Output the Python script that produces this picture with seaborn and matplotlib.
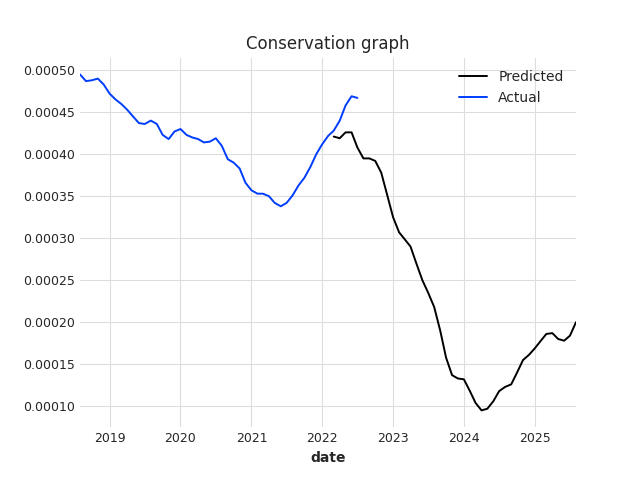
import matplotlib
matplotlib.use("Agg")
import matplotlib.pyplot as plt
import pandas as pd
import seaborn as sns

actual_start = "2018-08-01"
actual_values = [
    0.000495, 0.000487, 0.000488, 0.000490, 0.000483,
    0.000472, 0.000465, 0.000460, 0.000453, 0.000445, 0.000437, 0.000436,
    0.000440, 0.000436, 0.000423, 0.000418, 0.000427,
    0.000430, 0.000423, 0.000420, 0.000418, 0.000414, 0.000415, 0.000419,
    0.000410, 0.000394, 0.000390, 0.000383, 0.000366,
    0.000357, 0.000353, 0.000353, 0.000350, 0.000342, 0.000338, 0.000342,
    0.000351, 0.000363, 0.000372, 0.000385, 0.000400,
    0.000412, 0.000422, 0.000428, 0.000440, 0.000458, 0.000469, 0.000467,
]
pred_start = "2022-03-01"
pred_values = [
    0.000421, 0.000419, 0.000426, 0.000426, 0.000408, 0.000395, 0.000395,
    0.000392, 0.000378, 0.000352,
    0.000325, 0.000307, 0.000299, 0.000290, 0.000270, 0.000250, 0.000235,
    0.000218, 0.000190, 0.000158, 0.000137, 0.000133,
    0.000132, 0.000118, 0.000104, 0.000095, 0.000097, 0.000106, 0.000118,
    0.000123, 0.000126, 0.000140, 0.000155, 0.000161,
    0.000169, 0.000178, 0.000186, 0.000187, 0.000180, 0.000178, 0.000184,
    0.000200,
]

actual = pd.DataFrame({"date": pd.date_range(actual_start, periods=len(actual_values), freq="MS"),
                       "value": actual_values})
pred = pd.DataFrame({"date": pd.date_range(pred_start, periods=len(pred_values), freq="MS"),
                     "value": pred_values})

sns.set_style("whitegrid", {"grid.color": "#dddddd", "axes.edgecolor": "white"})
fig, ax = plt.subplots(figsize=(6.4, 4.8), dpi=100)
sns.lineplot(data=pred, x="date", y="value", color="black", lw=1.4, label="Predicted", ax=ax)
sns.lineplot(data=actual, x="date", y="value", color="#003DFD", lw=1.4, label="Actual", ax=ax)

ax.set_xlim(actual["date"].iloc[0], pred["date"].iloc[-1])
ax.set_title("Conservation graph", fontsize=12)
ax.set_xlabel("date", fontweight="bold", fontsize=10)
ax.set_ylabel("")
ax.tick_params(labelsize=9, length=0)
for s in ax.spines.values():
    s.set_visible(False)
ax.legend(frameon=False, loc="upper right", fontsize=10)
plt.savefig("out.png", dpi=100)
